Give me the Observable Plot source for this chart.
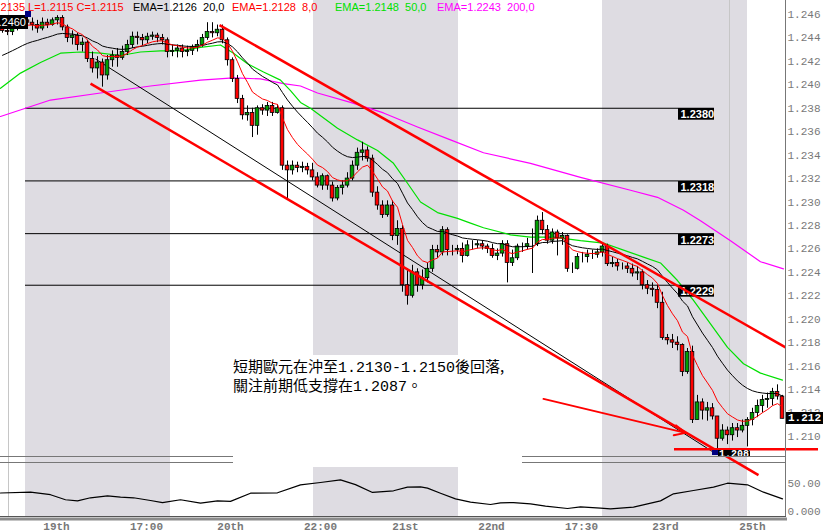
<!DOCTYPE html>
<html><head><meta charset="utf-8">
<script src="https://cdn.jsdelivr.net/npm/d3@7"></script>
<script src="https://cdn.jsdelivr.net/npm/@observablehq/plot@0.6"></script>
<style>
body{margin:0;background:#fff;}
#wrap{position:relative;width:823px;height:532px;overflow:hidden;font-family:"Liberation Sans",Arial,sans-serif;}
#wrap svg{position:absolute;left:0;}
.hdr{position:absolute;top:1px;font:11px "Liberation Sans",Arial,sans-serif;white-space:pre;z-index:5;line-height:13px;}
#note{position:absolute;left:233px;top:355px;width:289px;height:112px;background:#fff;z-index:4;
 font:15px "Noto Sans CJK TC",sans-serif;line-height:16px;padding-top:3px;box-sizing:border-box;color:#000;white-space:nowrap;}
#note .a{font-family:"Liberation Mono",monospace;font-size:15px;}
</style></head><body><div id="wrap"></div>
<script>
// ---------------- data ----------------
const firstOpen = 1.2453;
const closes = [
1.2446,1.2445,1.2449,1.2451,1.2455,1.2453,1.2451,1.2448,1.2453,1.2451,
1.2455,1.2457,1.2449,1.2440,1.2442,1.2434,1.2436,1.2422,1.2414,1.2419,
1.2408,1.2421,1.2425,1.2423,1.2428,1.2434,1.2441,1.2440,1.2438,1.2441,
1.2442,1.2440,1.2438,1.2428,1.2429,1.2431,1.2428,1.2429,1.2432,1.2434,
1.2440,1.2445,1.2444,1.2447,1.2438,1.2421,1.2405,1.2388,1.2374,1.2376,
1.2365,1.2380,1.2378,1.2382,1.2376,1.2380,1.2331,1.2327,1.2331,1.2329,
1.2330,1.2327,1.2321,1.2314,1.2322,1.2314,1.2303,1.2312,1.2314,1.2320,
1.2331,1.2342,1.2344,1.2337,1.2308,1.2297,1.2289,1.2297,1.2271,1.2277,
1.2229,1.2220,1.2240,1.2229,1.2235,1.2243,1.2259,1.2257,1.2276,1.2259,
1.2259,1.2260,1.2254,1.2263,1.2263,1.2264,1.2262,1.2260,1.2254,1.2256,
1.2264,1.2248,1.2252,1.2262,1.2262,1.2264,1.2264,1.2284,1.2276,1.2267,
1.2274,1.2269,1.2271,1.2243,1.2243,1.2253,1.2253,1.2255,1.2255,1.2257,
1.2262,1.2247,1.2248,1.2245,1.2245,1.2243,1.2239,1.2240,1.2229,1.2226,
1.2225,1.2214,1.2184,1.2182,1.2180,1.2178,1.2155,1.2172,1.2114,1.2129,
1.2122,1.2124,1.2117,1.2098,1.2105,1.2101,1.2107,1.2105,1.2109,1.2114,
1.2120,1.2126,1.2131,1.2132,1.2138,1.2134,1.2115];
const highs = [
1.2457,1.2449,1.2451,1.2455,1.2458,1.2460,1.2457,1.2455,1.2457,1.2456,
1.2457,1.2459,1.2459,1.2451,1.2446,1.2444,1.2440,1.2438,1.2428,1.2424,
1.2422,1.2425,1.2429,1.2431,1.2433,1.2438,1.2445,1.2445,1.2443,1.2444,
1.2445,1.2444,1.2443,1.2440,1.2434,1.2434,1.2434,1.2433,1.2434,1.2438,
1.2443,1.2453,1.2453,1.2451,1.2451,1.2440,1.2423,1.2408,1.2391,1.2382,
1.2380,1.2382,1.2383,1.2385,1.2385,1.2383,1.2382,1.2335,1.2335,1.2334,
1.2334,1.2333,1.2333,1.2325,1.2324,1.2323,1.2317,1.2314,1.2318,1.2325,
1.2335,1.2346,1.2351,1.2347,1.2340,1.2313,1.2301,1.2301,1.2301,1.2284,
1.2280,1.2243,1.2246,1.2243,1.2242,1.2248,1.2263,1.2263,1.2279,1.2278,
1.2263,1.2263,1.2265,1.2267,1.2267,1.2267,1.2267,1.2264,1.2264,1.2260,
1.2267,1.2267,1.2259,1.2264,1.2265,1.2269,1.2277,1.2288,1.2291,1.2280,
1.2277,1.2276,1.2274,1.2272,1.2248,1.2256,1.2257,1.2259,1.2259,1.2260,
1.2265,1.2264,1.2253,1.2251,1.2248,1.2248,1.2247,1.2245,1.2242,1.2233,
1.2231,1.2229,1.2223,1.2187,1.2187,1.2185,1.2179,1.2175,1.2177,1.2135,
1.2132,1.2129,1.2128,1.2117,1.2110,1.2108,1.2111,1.2111,1.2114,1.2116,
1.2124,1.2131,1.2135,1.2137,1.2141,1.2144,1.2135];
const lows = [
1.2444,1.2442,1.2442,1.2446,1.2449,1.2450,1.2446,1.2444,1.2446,1.2448,
1.2450,1.2451,1.2446,1.2436,1.2434,1.2429,1.2428,1.2419,1.2410,1.2405,
1.2398,1.2404,1.2415,1.2415,1.2421,1.2425,1.2431,1.2434,1.2433,1.2435,
1.2438,1.2436,1.2434,1.2423,1.2424,1.2423,1.2423,1.2424,1.2425,1.2428,
1.2432,1.2438,1.2440,1.2441,1.2435,1.2416,1.2402,1.2384,1.2370,1.2369,
1.2355,1.2357,1.2374,1.2373,1.2373,1.2375,1.2327,1.2303,1.2323,1.2325,
1.2325,1.2323,1.2318,1.2312,1.2310,1.2310,1.2300,1.2301,1.2306,1.2312,
1.2318,1.2327,1.2335,1.2334,1.2304,1.2293,1.2286,1.2287,1.2267,1.2263,
1.2223,1.2212,1.2218,1.2223,1.2225,1.2231,1.2240,1.2252,1.2254,1.2254,
1.2254,1.2255,1.2248,1.2253,1.2259,1.2260,1.2259,1.2256,1.2252,1.2250,
1.2253,1.2231,1.2245,1.2250,1.2257,1.2259,1.2239,1.2262,1.2272,1.2264,
1.2264,1.2254,1.2263,1.2240,1.2239,1.2242,1.2248,1.2248,1.2251,1.2252,
1.2253,1.2245,1.2244,1.2241,1.2242,1.2239,1.2236,1.2233,1.2225,1.2221,
1.2219,1.2209,1.2182,1.2178,1.2175,1.2173,1.2151,1.2153,1.2111,1.2114,
1.2114,1.2113,1.2114,1.2088,1.2096,1.2093,1.2096,1.2099,1.2103,1.2091,
1.2109,1.2116,1.2120,1.2124,1.2126,1.2131,1.2115];

const ema8Seed = 1.2450, ema20Seed = 1.2423;
const ema50Bar = [-0.4,3.6,7.6,11.6,15.6,19.6,23.6,27.6,31.6,35.6,39.6,43.6,46.2,49,52.2,55.6,57.6,59.6,61.6,67,71,75,78.2,81,83.6,87,91,93.6,96.2,101.6,105.6,110.2,115.6,120.2,124.2,128.2,131.6,135,138.2,141.6,145,148.2,151.6,156];
const ema50Val = [1.2397,1.2410,1.2419,1.2427,1.2428,1.2427,1.2425,1.2428,1.2429,1.2429,1.2432,1.2434,1.2427,1.2418,1.2411,1.2404,1.2395,1.2385,1.2380,1.2363,1.2353,1.2344,1.2333,1.2316,1.2300,1.2291,1.2286,1.2282,1.2278,1.2272,1.2270,1.2270,1.2267,1.2265,1.2259,1.2253,1.2248,1.2233,1.2216,1.2196,1.2176,1.2162,1.2154,1.2148];
const ema200Bar = [-0.4,9.6,19.6,29.6,39.6,46.2,51.6,56.2,59.6,63,69.6,76.2,83,89.6,96.2,105.6,115.6,125.6,131,136.2,139.6,145.6,151.6,156.2];
const ema200Val = [1.2373,1.2387,1.2393,1.2399,1.2404,1.2406,1.2405,1.2401,1.2399,1.2393,1.2385,1.2376,1.2364,1.2353,1.2342,1.2333,1.2321,1.2310,1.2304,1.2293,1.2284,1.2267,1.2249,1.2243];

const oscBar = [-0.4,5.6,9.6,12.6,15,17.6,21,23.6,26.2,29.6,32,35.6,39.6,43,45.6,49.6,55,59.6,63.6,67.6,70.6,74,78.2,81,83.6,85,87.6,90.6,93.6,97.6,99.6,102.2,105.6,108.6,113,115.6,119.6,121.6,126.2,131.6,134.2,138.2,142.2,145,149,152.2,156];
const oscVal = [33,34.5,30,21,19,24.5,28,25.5,24.5,19.6,16,21,15,19,18,32.7,33.4,47.6,51.8,56.5,48,34,37,43.4,44,41.7,32.7,22.6,16.7,12.5,15.5,16,13.7,9.5,5.4,8.4,6,4.8,7.7,19,31.6,37.5,43.4,50.5,47.7,34.5,22.6];

const levels = [1.2380, 1.2318, 1.2273, 1.2229];
const priceTicks = [1.210,1.212,1.214,1.216,1.218,1.220,1.222,1.224,1.226,1.228,1.230,1.232,1.234,1.236,1.238,1.240,1.242,1.244,1.246];
const oscTicks = [0, 50];
const oscTickLabels = ["0.000", "50.00"];
const xTickBars = [10.8, 28.8, 45.6, 63.6, 80.6, 97.8, 115.8, 132.6, 150];
const xTickLabels = ["19th","17:00","20th","22:00","21st","22nd","17:30","23rd","25th"];
const dayBands = [{a:4.6,b:33.6},{a:62.2,b:91.2},{a:120,b:149}];
const dividers = [1.2, 145.4];
const redChannel = [{x1:43.4,y1:1.2451,x2:156.6,y2:1.2176},{x1:17.6,y1:1.2401,x2:151.2,y2:1.2067}];
const blackTrend = [{x1:18.6,y1:1.2422,x2:142,y2:1.2087}];
const arrowLine = [{x1:108.2,y1:1.2132,x2:136.6,y2:1.2103}];
const supportLine = {y:1.2089, x1:134.4, x2:163.2};
const levelFrom = 4.6, levelTo = 135.2, labelTo = 142.4, labelSpan = 0.00102;
const highBar = 5, highVal = 1.2460, lowBar = 143, lowVal = 1.2088, lastClose = 1.2115;
const header = [
 {t:"H=1.2135 L=1.2115 C=1.2115", c:"#ff0000", x:-23},
 {t:"EMA=1.2126  20,0", c:"#000000", x:133},
 {t:"EMA=1.2128  8,0", c:"#ff0000", x:232},
 {t:"EMA=1.2148  50,0", c:"#00e000", x:335},
 {t:"EMA=1.2243  200,0", c:"#ff00ff", x:437}];

// ---------------- build ----------------
const bars = closes.map((c,i)=>({i, o: i===0 ? firstOpen : closes[i-1], h: highs[i], l: lows[i], c}));
function ema(period, seed){const k=2/(period+1); let e=seed; return closes.map((c,i)=>({x:i, v:(e = e + k*(c-e))}));}
const ema8 = ema(8, ema8Seed), ema20 = ema(20, ema20Seed);
const zip = (a,b)=>a.map((x,j)=>({x, v:b[j]}));
const ema50 = zip(ema50Bar, ema50Val), ema200 = zip(ema200Bar, ema200Val), osc = zip(oscBar, oscVal);
const xDomain = [-0.4, 156.6];
const bandFill = "#dedce2";
const svgStyle = {background:"transparent", overflow:"visible", fontFamily:"Liberation Mono, monospace", fontSize:"11px", color:"#787878"};

const main = Plot.plot({
  width: 823, height: 462, marginLeft: 0, marginRight: 38, marginTop: 0, marginBottom: 0,
  x: {domain: xDomain, axis: null},
  y: {domain: [1.210, 1.246], range: [435.9, 14], axis: null},
  style: svgStyle,
  marks: [
    Plot.rect(dayBands, {x1:"a", x2:"b", fill: bandFill}),
    Plot.ruleX(dividers, {stroke:"#c6c6c6"}),
    Plot.ruleY(levels, {x1: ()=>levelFrom, x2: ()=>levelTo, stroke:"#000"}),
    Plot.line(ema200, {x:"x", y:"v", stroke:"#ff00ff", strokeWidth:1.2}),
    Plot.line(ema50, {x:"x", y:"v", stroke:"#00e000", strokeWidth:1.2}),
    Plot.link(blackTrend, {x1:"x1", y1:"y1", x2:"x2", y2:"y2", stroke:"#000", strokeWidth:1}),
    Plot.ruleX(bars, {x:"i", y1:"l", y2:"h", stroke:"#000", strokeWidth:1}),
    Plot.rect(bars, {x1: d=>d.i-0.36, x2: d=>d.i+0.36, y1:"o", y2:"c",
      fill: d=> d.c >= d.o ? "#00a000" : "#ff0000", stroke:"#000", strokeWidth:0.8}),
    Plot.line(ema20, {x:"x", y:"v", stroke:"#000", strokeWidth:1}),
    Plot.line(ema8, {x:"x", y:"v", stroke:"#ff0000", strokeWidth:1}),
    Plot.rect(levels, {x1: ()=>levelTo, x2: ()=>labelTo, y1: d=>d, y2: d=>d - labelSpan, fill:"#000"}),
    Plot.text(levels, {x: ()=>levelTo, y: d=>d, text: d=>d.toFixed(4), dx: 2, dy: 6.5, textAnchor:"start",
      fill:"#fff", fontFamily:"Liberation Sans, Arial", fontWeight:"bold", fontSize: 11}),
    Plot.link(redChannel, {x1:"x1", y1:"y1", x2:"x2", y2:"y2", stroke:"#ff0000", strokeWidth:2.5}),
    Plot.arrow(arrowLine, {x1:"x1", y1:"y1", x2:"x2", y2:"y2", stroke:"#ff0000", strokeWidth:2, headLength:9, headAngle:50}),
    Plot.ruleY([supportLine.y], {x1: ()=>supportLine.x1, x2: ()=>supportLine.x2, stroke:"#ff0000", strokeWidth:2.5}),
    Plot.axisY({anchor:"right", ticks: priceTicks, tickFormat: d3.format(".3f"), tickSize: 0, tickPadding: 2, label: null, fill:"#787878"}),
    Plot.frame({anchor:"right", stroke:"#777"}),
    Plot.frame({anchor:"bottom", dy:-6, stroke:"#777"})
  ]
});

const lower = Plot.plot({
  width: 823, height: 70, marginLeft: 0, marginRight: 38, marginTop: 0, marginBottom: 16,
  x: {domain: xDomain, axis: null},
  y: {domain: [0, 50], range: [49, 21], axis: null},
  style: svgStyle,
  marks: [
    Plot.rect(dayBands, {x1:"a", x2:"b", fill: bandFill}),
    Plot.ruleX(dividers, {stroke:"#c6c6c6"}),
    Plot.line(osc, {x:"x", y:"v", stroke:"#000", strokeWidth:1.2}),
    Plot.axisY({anchor:"right", ticks: oscTicks, tickFormat: d => oscTickLabels[oscTicks.indexOf(d)], tickSize:0, tickPadding:2, label:null, fill:"#787878"}),
    Plot.frame({anchor:"top", stroke:"#777"}),
    Plot.frame({anchor:"right", stroke:"#777"}),
    Plot.frame({anchor:"bottom", stroke:"#555"}),
    Plot.frame({anchor:"bottom", dy:2.5, stroke:"#8c8c8c", strokeWidth:3, strokeDasharray:"8,3"}),
    Plot.text(xTickBars.map((b,i)=>({b, t:xTickLabels[i]})), {x:"b", text:"t", frameAnchor:"bottom", dy:10,
      lineAnchor:"middle", fill:"#787878", fontWeight:"bold", fontSize:11})
  ]
});

const wrap = document.getElementById("wrap");
main.style.top = "0px"; main.style.zIndex = 2;
lower.style.top = "462px"; lower.style.zIndex = 1;
wrap.appendChild(lower); wrap.appendChild(main);

const xs = main.scale("x"), ys = main.scale("y");
function box(css, html){const d=document.createElement("div"); d.style.cssText="position:absolute;"+css; if(html) d.innerHTML=html; wrap.appendChild(d); return d;}

header.forEach(h => box(`left:${h.x}px;top:1px;color:${h.c};font:11px 'Liberation Sans',Arial,sans-serif;white-space:pre;z-index:5;line-height:13px;`, h.t));

// high label
const hx = xs.apply(highBar), hy = ys.apply(highVal);
box(`left:${hx-41}px;top:${hy+1}px;width:42px;height:14px;background:#000;color:#fff;font:11px 'Liberation Sans',Arial;line-height:14px;text-align:right;padding-right:2px;box-sizing:border-box;z-index:3;`, highVal.toFixed(4));
box(`left:${hx-2}px;top:${hy-3}px;width:6px;height:6px;background:#000080;z-index:3;`);
// low label
const lx = xs.apply(lowBar), ly = ys.apply(lowVal);
box(`left:${lx-5}px;top:${ly}px;width:6px;height:5px;background:#000080;z-index:3;`);
box(`left:${lx+1}px;top:${ly}px;width:31px;height:${456-ly}px;overflow:hidden;background:#000;color:#fff;font:bold 10px 'Liberation Mono',monospace;line-height:10px;padding-left:1px;z-index:3;`, "1.2087");
// last price
const py = ys.apply(lastClose);
box(`left:786px;top:${py-6}px;width:37px;height:12px;background:#000;color:#fff;font:bold 11px 'Liberation Mono',monospace;line-height:12px;padding-left:2px;box-sizing:border-box;z-index:6;`, lastClose.toFixed(3));

// annotation
const note = document.createElement("div"); note.id="note";
note.innerHTML = '短期歐元在沖至<span class="a">1.2130-1.2150</span>後回落,<br>關注前期低支撐在<span class="a">1.2087</span>。';
wrap.appendChild(note);
</script>
</body></html>
